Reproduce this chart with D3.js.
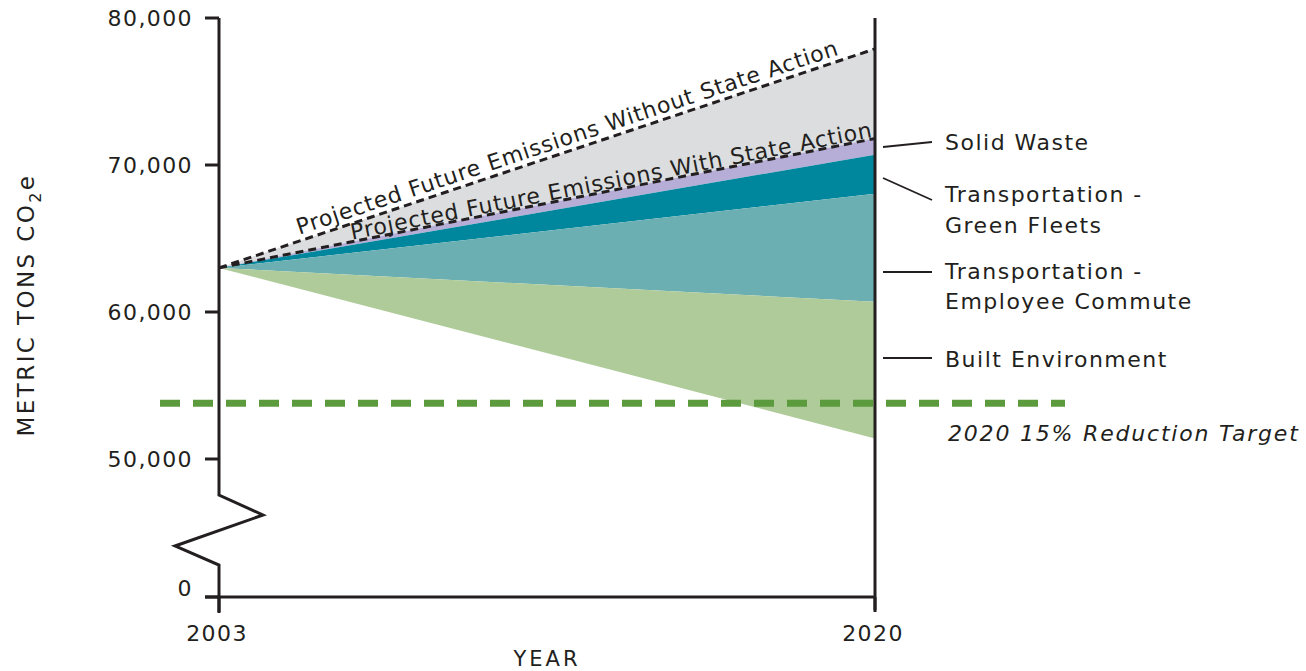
<!DOCTYPE html>
<html>
<head>
<meta charset="utf-8">
<script src="https://cdn.jsdelivr.net/npm/d3@7"></script>
<style>
  body { margin: 0; background: #fff; }
  svg text { font-family: "DejaVu Sans", sans-serif; fill: #231f20; }
</style>
</head>
<body>
<svg id="chart" width="1306" height="671"></svg>
<script>
// data
const years = [2003, 2020];
const withoutAction = [63000, 77900];
const withAction = [63000, 71800];
const solidWaste = [0, 1100];
const greenFleets = [0, 2650];
const employeeCommute = [0, 7350];
const builtEnvironment = [0, 9300];
const reductionTarget = 53800;
const yTicks = [0, 50000, 60000, 70000, 80000];
const xTicks = [2003, 2020];
const wedgeNames = ["Solid Waste", "Transportation - Green Fleets", "Transportation - Employee Commute", "Built Environment"];
const wedgeColors = ["#b6aed6", "#00879d", "#6cafb2", "#aecb99"];

const svg = d3.select("#chart");
const ink = "#231f20";

const x = d3.scaleLinear().domain([2003, 2020]).range([219, 875]);
// broken axis: 0 sits below the break
const y = d3.scaleLinear().domain([0, 50000, 80000]).range([597, 459, 18]);

// stack the wedges down from the "with state action" line
const wedges = [solidWaste, greenFleets, employeeCommute, builtEnvironment];
let upper = withAction.slice();
const layers = wedges.map((w, i) => {
    const lower = upper.map((v, j) => v - w[j]);
    const vals = years.map((yr, j) => ({year: yr, y0: lower[j], y1: upper[j]}));
    upper = lower;
    return {name: wedgeNames[i], color: wedgeColors[i], values: vals};
});

const area = d3.area()
    .x(d => x(d.year))
    .y0(d => y(d.y0))
    .y1(d => y(d.y1));

// grey gap between the two projections
svg.append("path")
    .datum(years.map((yr, j) => ({year: yr, y0: withAction[j], y1: withoutAction[j]})))
    .attr("d", area)
    .attr("fill", "#dcdddf");

svg.selectAll(".wedge")
    .data(layers)
    .enter().append("path")
    .attr("class", "wedge")
    .attr("d", d => area(d.values))
    .attr("fill", d => d.color);

const line = d3.line().x(d => x(d[0])).y(d => y(d[1]));

[withoutAction, withAction].forEach(s => {
    svg.append("path")
        .datum(years.map((yr, j) => [yr, s[j]]))
        .attr("d", line)
        .attr("fill", "none")
        .attr("stroke", ink)
        .attr("stroke-width", 3)
        .attr("stroke-dasharray", "8,5");
});

// target line
svg.append("line")
    .attr("x1", 160).attr("x2", 1065)
    .attr("y1", y(reductionTarget)).attr("y2", y(reductionTarget))
    .attr("stroke", "#5b9b3e")
    .attr("stroke-width", 7)
    .attr("stroke-dasharray", "20,13");

// projection labels along the lines
function slopeLabel(series, text, endX, lift) {
    const x0 = x(years[0]), y0 = y(series[0]);
    const x1 = x(years[1]), y1 = y(series[1]);
    const ang = Math.atan2(y1 - y0, x1 - x0) * 180 / Math.PI;
    const t = (endX - x0) / (x1 - x0);
    const py = y0 + t * (y1 - y0);
    svg.append("text")
        .attr("transform", `translate(${endX},${py}) rotate(${ang})`)
        .attr("y", -lift)
        .attr("text-anchor", "end")
        .style("font-size", "22px")
        .style("letter-spacing", "0.85px")
        .text(text);
}
slopeLabel(withoutAction, "Projected Future Emissions Without State Action", 842, 6);
slopeLabel(withAction, "Projected Future Emissions With State Action", 874, 2);

// axes
const g = svg.append("g").attr("stroke", ink).attr("stroke-width", 3).attr("fill", "none");
g.append("path").attr("d", `M219,${y(80000)} V495 L263,515 L175,546 L219,565 V613`);
g.append("line").attr("x1", 875).attr("x2", 875).attr("y1", y(80000)).attr("y2", 610);
g.append("line").attr("x1", 205).attr("x2", 875).attr("y1", y(0)).attr("y2", y(0));
yTicks.forEach(v => {
    g.append("line").attr("x1", 205).attr("x2", 219).attr("y1", y(v)).attr("y2", y(v));
});
xTicks.forEach(v => {
    g.append("line").attr("x1", x(v)).attr("x2", x(v)).attr("y1", y(0)).attr("y2", 612);
});

svg.selectAll(".ytick")
    .data(yTicks)
    .enter().append("text")
    .attr("x", 193)
    .attr("y", d => y(d) - (d === 0 ? 9 : 0))
    .attr("dy", "0.36em")
    .attr("text-anchor", "end")
    .style("font-size", "22px")
    .style("letter-spacing", "1.4px")
    .text(d => d3.format(",")(d));

svg.selectAll(".xtick")
    .data(xTicks)
    .enter().append("text")
    .attr("x", d => x(d) - 2)
    .attr("y", 633)
    .attr("dy", "0.36em")
    .attr("text-anchor", "middle")
    .style("font-size", "22px")
    .style("letter-spacing", "1.4px")
    .text(d => d);

svg.append("text")
    .attr("x", 547).attr("y", 658).attr("dy", "0.36em")
    .attr("text-anchor", "middle")
    .style("font-size", "21px")
    .style("letter-spacing", "3px")
    .text("YEAR");

const yl = svg.append("text")
    .attr("transform", "translate(34,305) rotate(-90)")
    .attr("text-anchor", "middle")
    .style("font-size", "23px")
    .style("letter-spacing", "2.4px");
yl.append("tspan").text("METRIC TONS CO");
yl.append("tspan").attr("dy", 7).style("font-size", "16px").text("2");
yl.append("tspan").attr("dy", -7).text("e");

// right-hand labels with leader lines
const labelRows = [
    {lines: ["Solid Waste"], ly: [142], leader: [883, 147, 932, 142]},
    {lines: ["Transportation -", "Green Fleets"], ly: [194, 225], leader: [883, 178, 932, 200]},
    {lines: ["Transportation -", "Employee Commute"], ly: [271, 301], leader: [883, 272, 932, 272]},
    {lines: ["Built Environment"], ly: [359], leader: [883, 358, 932, 358]}
];
labelRows.forEach(r => {
    svg.append("line")
        .attr("x1", r.leader[0]).attr("y1", r.leader[1])
        .attr("x2", r.leader[2]).attr("y2", r.leader[3])
        .attr("stroke", ink).attr("stroke-width", 1.8);
    r.lines.forEach((t, i) => {
        svg.append("text")
            .attr("x", 945).attr("y", r.ly[i]).attr("dy", "0.36em")
            .style("font-size", "22px")
            .style("letter-spacing", "1.5px")
            .text(t);
    });
});

svg.append("text")
    .attr("x", 948).attr("y", 433).attr("dy", "0.36em")
    .style("font-size", "22px")
    .style("font-style", "italic")
    .style("letter-spacing", "1.8px")
    .text("2020 15% Reduction Target");
</script>
</body>
</html>
